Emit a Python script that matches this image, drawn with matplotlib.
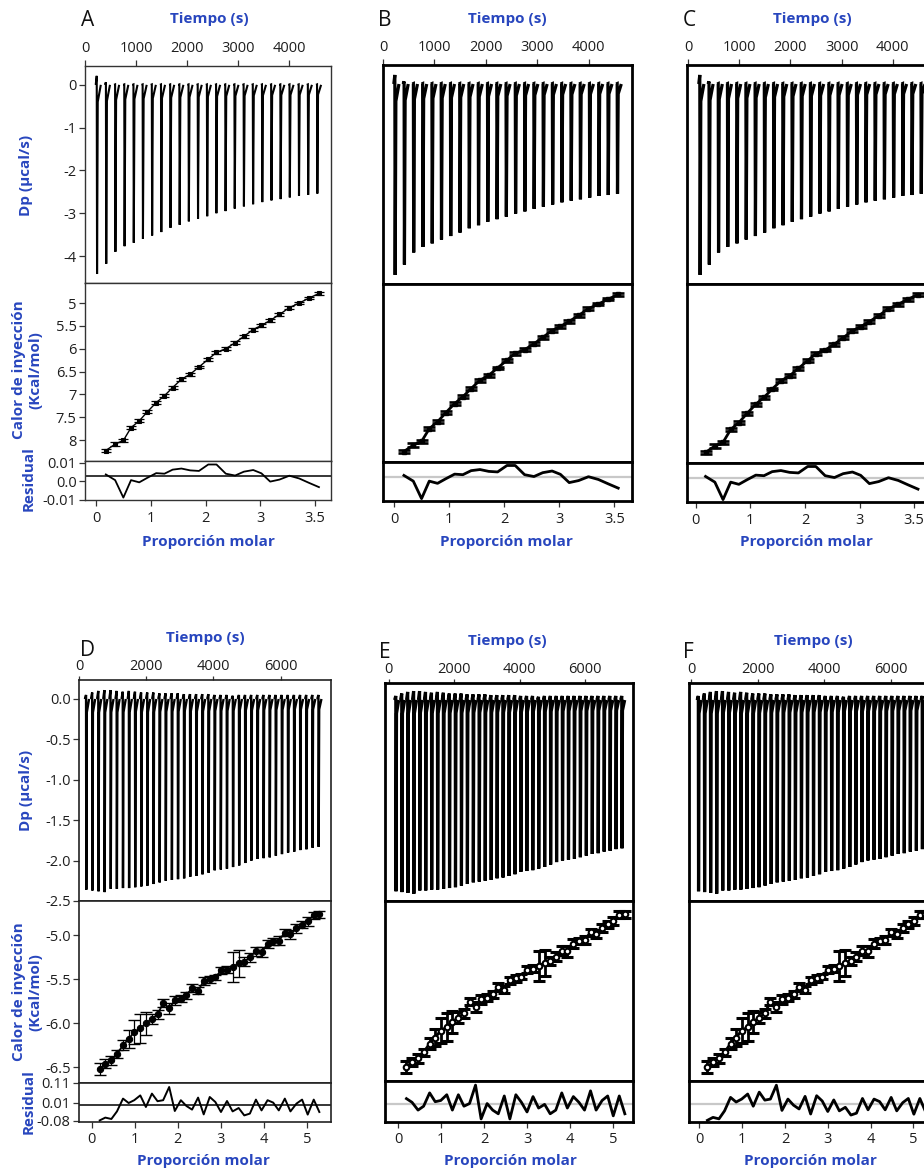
import numpy as np
import matplotlib
matplotlib.use("Agg")
import matplotlib.pyplot as plt

plt.rcParams['font.family'] = ['Open Sans', 'DejaVu Sans']
plt.rcParams['axes.unicode_minus'] = False

W, H = 924, 1171
BLUE = '#2846be'
TXT = '#1e1e1e'

# ---------------- data: row 1 (panels A, B, C) ----------------
time_ticks_1 = [0, 1000, 2000, 3000, 4000]
inj_time_1 = [230, 410, 590, 770, 950, 1130, 1310, 1490, 1670, 1850, 2030, 2210,
              2390, 2570, 2750, 2930, 3110, 3290, 3470, 3650, 3830, 4010, 4190, 4370, 4550]
dp_peak_1 = [-4.42, -4.18, -3.90, -3.77, -3.69, -3.60, -3.52, -3.44, -3.34, -3.27, -3.19, -3.13,
             -3.07, -3.00, -2.95, -2.89, -2.84, -2.79, -2.74, -2.70, -2.67, -2.63, -2.59, -2.57, -2.54]
dp_tip_1 = [0.21, 0.06, 0.01, 0.01, 0.01, 0.01, 0.01, 0.01, 0.01, 0.01, 0.01, 0.01,
            0.01, 0.01, 0.01, 0.01, 0.01, 0.01, 0.01, 0.01, 0.01, 0.01, 0.01, 0.01, 0.01]
molar_1 = [0.18, 0.35, 0.50, 0.64, 0.79, 0.94, 1.10, 1.25, 1.40, 1.56, 1.72, 1.88,
           2.05, 2.20, 2.37, 2.54, 2.70, 2.87, 3.02, 3.18, 3.35, 3.53, 3.71, 3.89, 4.07]
heat_1 = [-8.23, -8.09, -8.01, -7.73, -7.58, -7.38, -7.18, -7.03, -6.85, -6.67, -6.56, -6.40,
          -6.23, -6.08, -6.00, -5.87, -5.73, -5.58, -5.49, -5.38, -5.25, -5.10, -5.00, -4.89, -4.79]
heat_err_1 = [0.04, 0.04, 0.03, 0.03, 0.03, 0.03, 0.03, 0.03, 0.03, 0.03, 0.03, 0.03,
              0.03, 0.03, 0.03, 0.03, 0.03, 0.03, 0.03, 0.03, 0.03, 0.03, 0.03, 0.03, 0.04]
resid_1 = [0.0037, 0.0006, -0.0089, 0.0006, -0.0006, 0.0019, 0.0044, 0.0041, 0.0063, 0.0069,
           0.0059, 0.0056, 0.0091, 0.0091, 0.0041, 0.0031, 0.0052, 0.0061, 0.0043, -0.0002,
           0.0009, 0.0030, 0.0015, -0.0009, -0.0032]
molar_ticks_1 = [0, 1, 2, 3, 4]
molar_labels_1 = ['0', '1', '2', '3', '3.5']
dp_ticks_1 = [0, -1, -2, -3, -4]
dp_labels_1 = ['0', '-1', '-2', '-3', '-4']
heat_ticks_1 = [-5, -5.5, -6, -6.5, -7, -7.5, -8]
heat_labels_1 = ['5', '5.5', '6', '6.5', '7', '7.5', '8']
res_ticks_1 = [0.01, 0.0, -0.01]
res_labels_1 = ['0.01', '0.0', '-0.01']

# ---------------- data: row 2 (panels D, E, F) ----------------
time_ticks_2 = [0, 2000, 4000, 6000]
inj_time_2 = [210, 392, 574, 756, 938, 1120, 1302, 1484, 1666, 1848, 2030, 2212, 2394,
              2576, 2758, 2940, 3122, 3304, 3486, 3668, 3850, 4032, 4214, 4396, 4578, 4760,
              4942, 5124, 5306, 5488, 5670, 5852, 6034, 6216, 6398, 6580, 6762, 6944, 7126]
dp_peak_2 = [-2.36, -2.37, -2.38, -2.39, -2.35, -2.35, -2.34, -2.34, -2.33, -2.32,
             -2.31, -2.29, -2.27, -2.25, -2.24, -2.23, -2.22, -2.20, -2.19, -2.17,
             -2.15, -2.12, -2.11, -2.10, -2.08, -2.06, -2.03, -2.00, -1.98, -1.97,
             -1.96, -1.94, -1.92, -1.90, -1.89, -1.87, -1.86, -1.84, -1.83]
dp_tip_2 = [0.05, 0.08, 0.10, 0.11, 0.11, 0.10, 0.09, 0.10, 0.09, 0.08,
            0.08, 0.08, 0.07, 0.07, 0.07, 0.07, 0.06, 0.06, 0.06, 0.06,
            0.06, 0.05, 0.05, 0.05, 0.04, 0.05, 0.05, 0.05, 0.05, 0.05,
            0.05, 0.05, 0.05, 0.05, 0.05, 0.05, 0.05, 0.05, 0.05]
molar_2 = [0.19, 0.32, 0.46, 0.59, 0.73, 0.86, 0.99, 1.13, 1.26, 1.40,
           1.53, 1.66, 1.80, 1.93, 2.07, 2.20, 2.33, 2.47, 2.60, 2.74,
           2.87, 3.00, 3.14, 3.27, 3.41, 3.54, 3.67, 3.81, 3.94, 4.08,
           4.21, 4.34, 4.48, 4.61, 4.75, 4.88, 5.01, 5.15, 5.28]
heat_2 = [-6.52, -6.46, -6.42, -6.35, -6.25, -6.18, -6.10, -6.06, -6.00, -5.95,
          -5.90, -5.77, -5.83, -5.74, -5.72, -5.68, -5.60, -5.63, -5.52, -5.50,
          -5.48, -5.40, -5.39, -5.36, -5.32, -5.30, -5.25, -5.18, -5.19, -5.10,
          -5.07, -5.06, -4.97, -4.99, -4.92, -4.88, -4.84, -4.77, -4.76]
heat_err_2 = [0.07, 0.05, 0.05, 0.04, 0.06, 0.10, 0.14, 0.16, 0.13, 0.06,
              0.05, 0.04, 0.06, 0.05, 0.04, 0.04, 0.05, 0.04, 0.04, 0.04,
              0.03, 0.04, 0.04, 0.17, 0.15, 0.05, 0.05, 0.05, 0.06, 0.05,
              0.04, 0.05, 0.04, 0.05, 0.05, 0.04, 0.05, 0.04, 0.04]
resid_2 = [-0.077, -0.063, -0.070, -0.032, 0.032, 0.010, 0.024, 0.048, -0.010, 0.057,
           0.019, 0.024, 0.090, -0.030, 0.024, -0.005, -0.023, 0.037, -0.047, 0.040,
           0.015, -0.035, 0.020, -0.032, -0.015, -0.052, -0.043, 0.027, -0.027, 0.024,
           0.012, -0.027, 0.032, -0.032, 0.007, 0.027, -0.048, 0.027, -0.035]
resid_2e = [0.024, 0.006, -0.032, -0.013, 0.052, 0.009, 0.015, 0.043, -0.032, 0.043,
            -0.013, 0.0, 0.090, -0.075, 0.0, -0.032, -0.050, 0.037, -0.075, 0.043,
            0.006, -0.041, 0.034, -0.022, -0.004, -0.050, -0.032, 0.052, -0.022, 0.034,
            0.006, -0.032, 0.062, -0.032, 0.015, 0.037, -0.060, 0.037, -0.050]
molar_ticks_2 = [0, 1, 2, 3, 4, 5]
molar_labels_2 = ['0', '1', '2', '3', '4', '5']
dp_ticks_2 = [0.0, -0.5, -1.0, -1.5, -2.0, -2.5]
dp_labels_2 = ['0.0', '-0.5', '-1.0', '-1.5', '-2.0', '-2.5']
heat_ticks_2 = [-5.0, -5.5, -6.0, -6.5]
heat_labels_2 = ['-5.0', '-5.5', '-6.0', '-6.5']
res_ticks_2 = [0.11, 0.01, -0.08]
res_labels_2 = ['0.11', '0.01', '-0.08']

# ---------------- styles ----------------
thin_A = dict(spine_lw=1.0, spine_c='#333333', th_lw=1.5, eb_lw=0.8, cap=3.5, capt=0.9,
              mk='s', ms=2.8, mfc='black', mew=0.8, fit_lw=1.0, res_lw=1.3,
              hl_c='black', hl_lw=1.1)
thin_D = dict(spine_lw=1.2, spine_c='#222222', th_lw=1.7, eb_lw=0.9, cap=4.5, capt=1.0,
              mk='o', ms=4.5, mfc='black', mew=0.8, fit_lw=1.3, res_lw=1.4,
              hl_c='black', hl_lw=1.1)
bold_B = dict(spine_lw=2.0, spine_c='black', th_lw=2.3, eb_lw=1.5, cap=4.3, capt=1.9,
              mk='s', ms=2.5, mfc='black', mew=1.0, fit_lw=2.0, res_lw=2.0,
              hl_c='#c8c8c8', hl_lw=1.6)
bold_E = dict(spine_lw=2.0, spine_c='black', th_lw=2.3, eb_lw=2.0, cap=4.6, capt=2.2,
              mk='o', ms=4.0, mfc='white', mew=1.5, fit_lw=2.0, res_lw=2.0,
              hl_c='#c8c8c8', hl_lw=1.6)

fig = plt.figure(figsize=(W / 100, H / 100), dpi=100)
fig.patch.set_facecolor('white')


def add_ax(x0, x1, yt, yb):
    return fig.add_axes([x0 / W, 1 - yb / H, (x1 - x0) / W, (yb - yt) / H])


def ftext(x, y, s, **kw):
    fig.text(x / W, 1 - y / H, s, ha='center', va='center', **kw)


def thermo_trace(times, peaks, tips, pre, w, frac):
    xs, ys = [], []
    for t, p, u in zip(times, peaks, tips):
        xs += [t - pre, t, t + 0.08 * w, t + 0.25 * w, t + w, np.nan]
        ys += [0.0, u, p, frac * p, 0.0, np.nan]
    return xs, ys


def style_axes(ax, st):
    for s in ax.spines.values():
        s.set_linewidth(st['spine_lw'])
        s.set_color(st['spine_c'])
    ax.tick_params(labelsize=10.5, labelcolor=TXT, length=4, width=0.9,
                   color='#333333', direction='out', pad=2)


def panel(cfg, st):
    x0, x1 = cfg['x']
    y0, y1, y2, y3 = cfg['y']
    a1 = add_ax(x0, x1, y0, y1)
    a2 = add_ax(x0, x1, y1, y2)
    a3 = add_ax(x0, x1, y2, y3)
    for a in (a1, a2, a3):
        style_axes(a, st)

    # thermogram
    xs, ys = thermo_trace(cfg['t'], cfg['dp'], cfg['tip'], cfg['pre'], cfg['w'], cfg['frac'])
    a1.plot(xs, ys, color='black', lw=st['th_lw'], solid_joinstyle='miter',
            solid_capstyle='butt')
    a1.set_xlim(*cfg['tlim'])
    a1.set_ylim(*cfg['dplim'])
    a1.xaxis.tick_top()
    a1.set_xticks(cfg['tticks'])
    a1.set_xticklabels([str(v) for v in cfg['tticks']])
    a1.tick_params(axis='x', top=True, bottom=False, labeltop=True, labelbottom=False,
                   pad=cfg['tpad'], length=cfg['tlen'])

    # isotherm
    a2.errorbar(cfg['m'], cfg['q'], yerr=cfg['qe'], fmt='none', ecolor='black',
                elinewidth=st['eb_lw'], capsize=st['cap'], capthick=st['capt'], zorder=2)
    a2.plot(cfg['m'], cfg['q'], '-', color='black', lw=st['fit_lw'], zorder=3)
    a2.plot(cfg['m'], cfg['q'], ls='none', marker=st['mk'], ms=st['ms'],
            mfc=st['mfc'], mec='black', mew=st['mew'], zorder=4)
    a2.set_xlim(*cfg['mlim'])
    a2.set_ylim(*cfg['qlim'])
    a2.set_xticks([])

    # residuals
    a3.axhline(cfg['hl'], color=st['hl_c'], lw=st['hl_lw'], zorder=1)
    a3.plot(cfg['m'], cfg['r'], '-', color='black', lw=st['res_lw'], zorder=3)
    a3.set_xlim(*cfg['mlim'])
    a3.set_ylim(*cfg['rlim'])
    a3.set_xticks(cfg['mticks'])
    a3.set_xticklabels(cfg['mlabels'])
    a3.tick_params(axis='x', pad=cfg['bpad'])

    if cfg['yt']:
        a1.set_yticks(cfg['dpticks'])
        a1.set_yticklabels(cfg['dplabels'])
        a2.set_yticks(cfg['qticks'])
        a2.set_yticklabels(cfg['qlabels'])
        a3.set_yticks(cfg['rticks'])
        a3.set_yticklabels(cfg['rlabels'])
    else:
        for a in (a1, a2, a3):
            a.set_yticks([])


row1 = dict(t=inj_time_1, dp=dp_peak_1, tip=dp_tip_1, pre=20, w=80, frac=0.09,
            tticks=time_ticks_1, dplim=(-4.63, 0.44), m=molar_1, q=heat_1, qe=heat_err_1,
            qlim=(-8.46, -4.56), r=resid_1, rlim=(-0.0102, 0.011), hl=0.003,
            mticks=molar_ticks_1, mlabels=molar_labels_1,
            dpticks=dp_ticks_1, dplabels=dp_labels_1, qticks=heat_ticks_1,
            qlabels=heat_labels_1, rticks=res_ticks_1, rlabels=res_labels_1,
            tpad=3, tlen=4, bpad=4)
row2 = dict(t=inj_time_2, dp=dp_peak_2, tip=dp_tip_2, pre=35, w=90, frac=0.07,
            tticks=time_ticks_2, dplim=(-2.5, 0.235), m=molar_2, q=heat_2, qe=heat_err_2,
            qlim=(-6.68, -4.61), r=resid_2, rlim=(-0.085, 0.11), hl=0.0,
            mticks=molar_ticks_2, mlabels=molar_labels_2,
            dpticks=dp_ticks_2, dplabels=dp_labels_2, qticks=heat_ticks_2,
            qlabels=heat_labels_2, rticks=res_ticks_2, rlabels=res_labels_2,
            tpad=1, tlen=3, bpad=3)

cfgA = dict(row1, x=(85, 331), y=(66, 283, 461, 500), tlim=(0, 4824), mlim=(-0.2, 4.29), yt=True)
cfgB = dict(row1, x=(383, 632), y=(65, 284, 462, 501), tlim=(0, 4838), mlim=(-0.2, 4.32), yt=False)
cfgC = dict(row1, x=(687, 936), y=(65, 284, 463, 502), tlim=(-20, 4844), mlim=(-0.16, 4.4), yt=False)
cfgD = dict(row2, x=(79, 331), y=(680, 901, 1083, 1122), tlim=(0, 7500), mlim=(-0.29, 5.55), yt=True)
cfgE = dict(row2, x=(385, 633), y=(683, 901, 1081, 1122), tlim=(-120, 7470), mlim=(-0.31, 5.47),
            dplim=(-2.48, 0.21), r=resid_2e, rlim=(-0.09, 0.11), yt=False)
cfgF = dict(row2, x=(689, 937), y=(683, 901, 1081, 1122), tlim=(-70, 7390), mlim=(-0.24, 5.55),
            dplim=(-2.48, 0.21), yt=False)

panel(cfgA, thin_A)
panel(cfgB, bold_B)
panel(cfgC, bold_B)
panel(cfgD, thin_D)
panel(cfgE, bold_E)
panel(cfgF, bold_E)

lab = dict(color=BLUE, fontweight='bold', fontsize=11)
letter = dict(color='#111111', fontsize=15)

# row 1 texts
for L, xl, xt, xp in [('A', 88, 209, 208), ('B', 385, 507, 506), ('C', 689, 812, 806)]:
    ftext(xl, 21, L, **letter)
    ftext(xt, 19, 'Tiempo (s)', **lab)
    ftext(xp, 542, 'Proporción molar', **lab)
# row 2 texts
for L, xl, yl, xt, yt_, xp in [('D', 87, 651, 205, 638, 203), ('E', 385, 653, 507, 641, 510),
                               ('F', 688, 653, 813, 641, 810)]:
    ftext(xl, yl, L, **letter)
    ftext(xt, yt_, 'Tiempo (s)', **lab)
    ftext(xp, 1161, 'Proporción molar', **lab)

# y labels
for yd, yc, yr in [(175, 370, 479), (790, 992, 1102)]:
    ftext(26, yd, 'Dp (µcal/s)', rotation=90, **lab)
    ftext(27, yc, 'Calor de inyección\n(Kcal/mol)', rotation=90, linespacing=1.25, **lab)
    ftext(29, yr, 'Residual', rotation=90, **lab)

fig.savefig('out.png', dpi=100, facecolor='white')
